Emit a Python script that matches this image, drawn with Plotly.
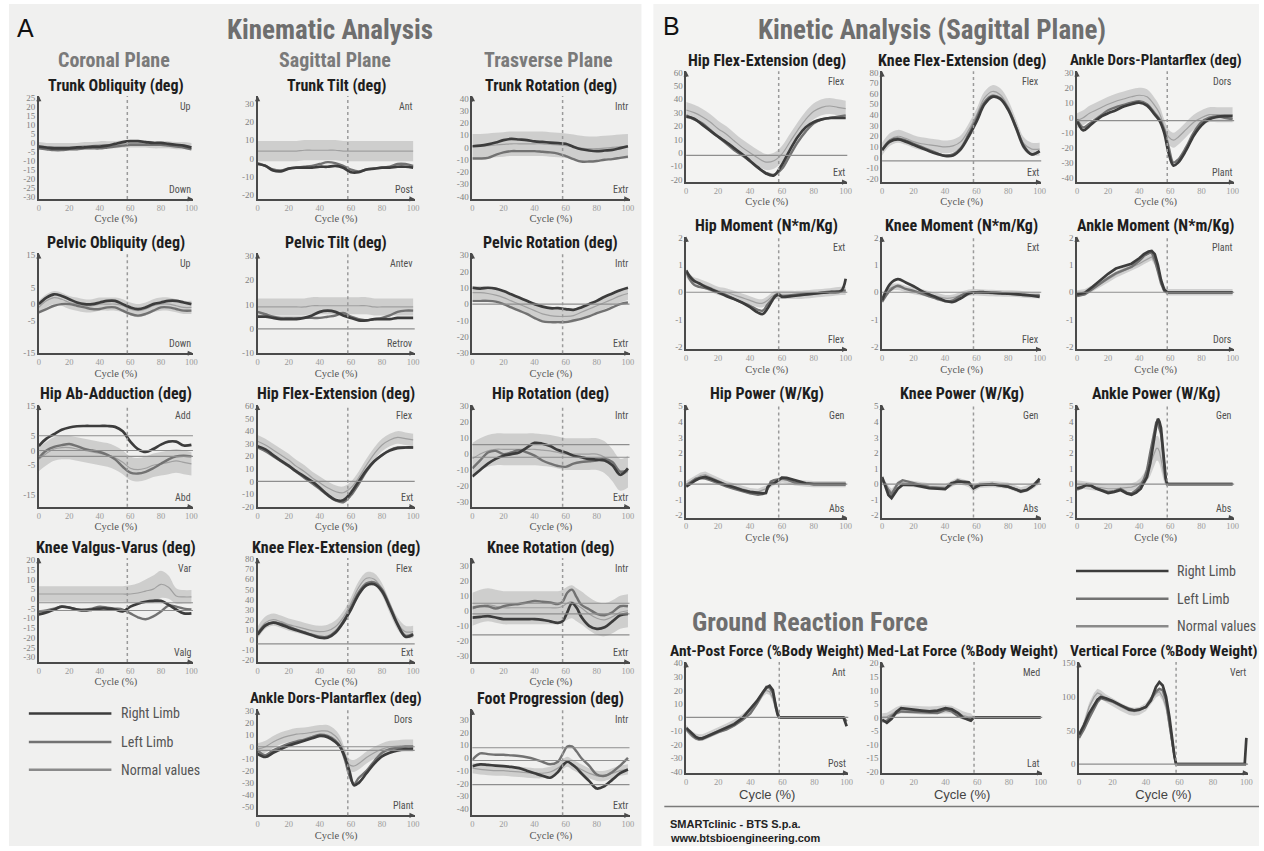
import plotly.graph_objects as go

W, H = 1264, 851
TOE_OFF = 58  # % of gait cycle at toe-off (dashed marker)

X21 = [0, 5, 10, 15, 20, 25, 30, 35, 40, 45, 50, 55, 60, 65, 70, 75, 80, 85, 90, 95, 100]
X_TICKS = [0, 20, 40, 60, 80, 100]

# ---------------- Panel A : kinematics ----------------
trunk_obl_x = X21
trunk_obl_r = [-2, -2.5, -3, -3, -3, -2.5, -2.5, -2, -2, -1.5, -0.5, 0.5, 1, 1, 0.5, 0, 0, -0.5, -1, -1.5, -2.5]
trunk_obl_l = [-3, -3.5, -4, -4, -3.5, -3.5, -3, -3, -3, -2.5, -2, -1.5, -1, -1, -1, -1, -1, -1.5, -2, -2.5, -3.5]
trunk_obl_n = [-1.5, -2, -2, -2, -2, -2, -1.5, -1.5, -1, -1, -1, -0.5, -0.5, -0.5, -0.5, -1, -1, -1, -1.5, -1.5, -2]
trunk_obl_sd = [2] * 21
trunk_obl_ticks = [-30, -25, -20, -15, -10, -5, 0, 5, 10, 15, 20, 25]
trunk_obl_hl = []

trunk_tilt_x = X21
trunk_tilt_r = [-3, -4, -6.5, -7, -5.5, -5, -5, -5, -4.5, -4.5, -4, -5, -7.5, -7.5, -6, -5.5, -5, -5, -4.5, -4.5, -5]
trunk_tilt_l = [-2.5, -4, -6, -6.5, -5.5, -5, -4.5, -4, -3, -2, -2.5, -4, -6, -7, -6, -5.5, -5, -4.5, -3, -3, -4]
trunk_tilt_n = [4, 4, 4, 4, 4, 4, 4.5, 4.5, 4.5, 4.5, 4.5, 4, 4, 4, 4, 4, 4, 4, 4, 4, 4]
trunk_tilt_sd = [5.5] * 21
trunk_tilt_ticks = [-20, -10, 0, 10, 20, 30]
trunk_tilt_hl = []

trunk_rot_x = X21
trunk_rot_r = [1, 1.5, 2.5, 4, 6, 7, 6.5, 6, 5, 4.5, 4, 3.5, 3, 0.5, -1.5, -2.5, -3, -2.5, -2, -0.5, 1]
trunk_rot_l = [-9, -9, -8.5, -6, -4, -3, -3, -3, -3, -3.5, -4, -5, -7, -9.5, -11.5, -11.5, -11, -10, -9.5, -8.5, -7.5]
trunk_rot_n = [1, 1, 1.5, 2, 2.5, 3, 3, 3, 3, 3, 2.5, 2, 1.5, 0.5, -0.5, -1, -1, -0.5, 0, 0.5, 1]
trunk_rot_sd = [10] * 21
trunk_rot_ticks = [-40, -30, -20, -10, 0, 10, 20, 30, 40]
trunk_rot_hl = []

pelv_obl_x = X21
pelv_obl_r = [0, 2, 3, 2.5, 1.5, 0.5, 0, 0, 0.5, 1, 1, 0, -1, -1.5, -1, 0, 0.5, 1, 1, 0.5, 0]
pelv_obl_l = [-2.5, -1.5, -0.5, 0, 0, -0.5, -1, -1.5, -1.5, -1, -1, -2, -3, -3.5, -3, -2, -1, -1, -1.5, -2, -2]
pelv_obl_n = [-1, 1, 2, 1.5, 0.5, 0, -0.5, -0.5, 0, 0, 0, -0.5, -1.5, -2, -1.5, -0.5, 0, 0, -0.5, -1, -1]
pelv_obl_sd = [2] * 21
pelv_obl_ticks = [-15, -5, 0, 5, 15]
pelv_obl_hl = []

pelv_tilt_x = X21
pelv_tilt_r = [5, 5, 4.5, 4, 4, 4, 4.5, 5.5, 7, 7.5, 7, 5.5, 4.5, 3.5, 3.5, 4, 4, 4, 4.5, 4.5, 4.5]
pelv_tilt_l = [7, 6, 5, 4.5, 4.5, 4.5, 4.5, 4.5, 4.5, 5, 5.5, 6.5, 5, 4, 3.5, 4, 4.5, 5.5, 7, 7.5, 7.5]
pelv_tilt_n = [9, 9, 9, 9, 9, 9, 9, 9.5, 9.5, 9.5, 9.5, 9.5, 9.5, 9.5, 9.5, 9, 9, 9, 9, 9, 9]
pelv_tilt_sd = [3.5] * 21
pelv_tilt_ticks = [-10, 0, 10, 20, 30]
pelv_tilt_hl = [0]

pelv_rot_x = X21
pelv_rot_r = [10, 9.5, 10, 9.5, 8, 6, 4, 2, 0, -1.5, -2.5, -2.5, -3, -3.5, -2, 0, 2, 4.5, 6.5, 8.5, 10]
pelv_rot_l = [2, 2, 2, 1.5, 0, -2, -4, -6, -8.5, -10.5, -11, -11, -11, -10, -9, -7.5, -5.5, -4, -2, 0, 1]
pelv_rot_n = [7, 7, 6.5, 5.5, 4, 2, 0, -2, -4, -6, -7, -7.5, -7.5, -7, -5, -3, -1, 1, 3, 5, 6.5]
pelv_rot_sd = [4] * 21
pelv_rot_ticks = [-30, -20, -10, 0, 10, 20, 30]
pelv_rot_hl = [0]

hip_abd_x = X21
hip_abd_r = [1.5, 4, 5.5, 7, 7.8, 8.2, 8.3, 8.3, 8.3, 8.3, 8, 6.5, 3, 0.5, -0.5, 0.5, 2, 3, 3, 1.7, 1.9]
hip_abd_l = [-2.5, 0, 1.2, 1.8, 2.2, 1.5, 0.5, 0, -0.5, -1.5, -3, -5.5, -7.5, -7.8, -7.2, -6, -4.5, -3, -2, -1.8, -2]
hip_abd_n = [-3, -1, 0.5, 1, 1, 0.5, 0, -0.5, -1, -1.5, -2.5, -4, -6, -6.5, -6, -5, -4.5, -4, -3.5, -4, -4.5]
hip_abd_sd = [4] * 21
hip_abd_ticks = [-15, -5, 0, 5, 15]
hip_abd_hl = [5, 0, -2]

hip_flex_a_x = X21
hip_flex_a_r = [28, 25.5, 21, 16.5, 12.5, 8, 4, 0, -5, -10.5, -14.5, -15, -9, 0, 9, 16, 21, 24.5, 26.5, 27, 27]
hip_flex_a_l = [27, 24, 20, 16, 12, 7.5, 3, -1.5, -6, -11, -15, -16.5, -11, -2, 8, 16, 21, 25, 27, 27, 27]
hip_flex_a_n = [32, 29, 25, 21, 17, 12, 8, 3, -1, -5, -8, -9, -5, 3, 13, 22, 29, 33, 35, 34, 33]
hip_flex_a_sd = [5] * 21
hip_flex_a_ticks = [-20, -10, 0, 10, 20, 30, 40, 50, 60]
hip_flex_a_hl = [0]

hip_rot_x = X21
hip_rot_r = [-14, -10, -6, -3, -1, 0, 1, 4, 7, 6.5, 5, 2.5, 1, -1, -2, -3, -3.5, -4, -7, -13, -9]
hip_rot_l = [-9, -4, 1, 2, 0, 1, 2.5, 1, -1, -4, -6, -7.5, -8, -6, -5, -4.5, -4, -3, -5, -11, -10]
hip_rot_n = [-3, 0, 2, 3, 3, 3, 3, 3, 3, 2.5, 2, 1, 0, 0, 0, 0, 0, -2, -7, -13, -11]
hip_rot_sd = [10] * 21
hip_rot_ticks = [-30, -20, -10, 0, 10, 20, 30]
hip_rot_hl = [6, -2]

knee_var_x = X21
knee_var_r = [-8, -7, -5.5, -4, -4.5, -5.5, -6, -5.5, -5, -5, -5.5, -6.5, -4, -2.5, -1.5, -1, -1, -3, -5.5, -7.5, -7.5]
knee_var_l = [-6.5, -6, -5, -4, -4.5, -5.5, -5.5, -5, -4, -4.5, -5, -5.5, -7.5, -9.5, -10.5, -9, -6.5, -3.5, -4, -5, -5.5]
knee_var_n = [2.5, 2.5, 2.5, 2.5, 2.5, 2.5, 2.5, 2.5, 2.5, 2.5, 2.5, 2.5, 2.5, 3, 4, 5, 7.5, 6, 1.5, 1, 1]
knee_var_sd = [4, 4, 4, 4, 4, 4, 4, 4, 4, 4, 4, 4, 4.5, 5, 6, 7, 7, 6, 4, 3.5, 3.5]
knee_var_ticks = [-30, -25, -20, -15, -10, -5, 0, 5, 10, 15, 20]
knee_var_hl = [-2, -6]

knee_flex_a_x = X21
knee_flex_a_r = [5, 14, 17, 15, 12, 9.5, 7, 4.5, 2, 2, 7, 17, 30, 45, 54, 55, 48, 32, 15, 3, 5]
knee_flex_a_l = [6, 15, 17, 16, 13, 10, 7.5, 5, 3, 3, 8, 18, 32, 47, 56, 57, 50, 34, 16, 4, 6]
knee_flex_a_n = [7, 17, 20, 18, 15, 13, 11, 9, 8, 9, 13, 22, 36, 52, 61, 60, 50, 32, 16, 8, 8]
knee_flex_a_sd = [6] * 21
knee_flex_a_ticks = [-20, -10, 0, 10, 20, 30, 40, 50, 60, 70, 80]
knee_flex_a_hl = [-4]

knee_rot_x = [0, 5, 10, 15, 20, 25, 30, 35, 40, 45, 50, 55, 58, 61, 64, 67, 70, 75, 80, 85, 90, 95, 100]
knee_rot_r = [-4.5, -4, -3.5, -4.5, -5.5, -5.5, -5.5, -5.5, -5.5, -6, -7, -8, -7, -1, 5, 2, -4, -10, -12, -11, -7, -3, -2]
knee_rot_l = [2, 3, 3, 1.5, 3, 4, 4.5, 5.5, 6.5, 6, 5.5, 4.5, 6, 12, 14, 9, 4, 1, -2, -3, -1, 3, 3]
knee_rot_n = [1, 3, 4, 3, 2, 2, 2, 2, 2, 2, 2, 2, 3, 5, 6, 4, 2, -2, -5, -6, -4, -1, 0]
knee_rot_sd = [11] * 23
knee_rot_ticks = [-30, -20, -10, 0, 10, 20, 30]
knee_rot_hl = [5, -2, -16]

ankle_a_x = [0, 5, 10, 15, 20, 25, 30, 35, 40, 45, 50, 53, 56, 59, 62, 65, 70, 75, 80, 85, 90, 95, 100]
ankle_a_r = [-6, -8.5, -5, -2, 1, 3, 5, 7, 9, 8, 4, 0, -8, -20, -32, -30, -22, -14, -8, -5, -3, -2, -2]
ankle_a_l = [-3, -7, -3, 0, 2.5, 4.5, 6, 8, 10, 9, 5, 0, -10, -24, -31, -26, -20, -12, -5, -2, -1, 0, 0]
ankle_a_n = [-2, 0, 4, 7, 9, 10.5, 11, 12, 13, 13, 9, 4, -6, -15, -16, -14, -9, -5, -2, 0, 0.5, 1, 1]
ankle_a_sd = [5] * 23
ankle_a_ticks = [-50, -40, -30, -20, -10, 0, 10, 20, 30]
ankle_a_hl = [0, -3]

foot_prog_x = [0, 5, 10, 15, 20, 25, 30, 35, 40, 45, 50, 55, 58, 61, 64, 67, 70, 75, 80, 85, 90, 95, 100]
foot_prog_r = [-6.5, -5, -5.5, -6, -6.5, -7, -8, -10, -12, -14, -15.5, -11, -6, -3, -5, -8, -12, -18, -24, -22, -17, -12, -9]
foot_prog_l = [-1.5, 3.5, 3, 2.5, 2.5, 2, 1.5, 0.5, -1, -3, -5, -3, 3, 9, 9, 5, 0, -6, -13, -14, -11, -6, 0]
foot_prog_n = [-8, -9, -9.5, -10, -10, -10.5, -11, -11.5, -12, -12, -11, -8, -5, -3, -5, -7, -9, -12, -14, -14, -12, -10, -9]
foot_prog_sd = [4] * 23
foot_prog_ticks = [-40, -30, -20, -10, 0, 10, 20, 30]
foot_prog_hl = [8, -2, -21]

# ---------------- Panel B : kinetics ----------------
hip_flex_b_x = X21
hip_flex_b_r = [27, 25.5, 21, 16.5, 12, 8, 3.5, -1, -6, -11, -15.5, -17, -9, 2, 12, 19, 23, 25, 26, 26, 26]
hip_flex_b_l = [28, 25, 22, 17, 12, 7, 2, -2, -6.5, -11.5, -15, -16.5, -12, -2, 8, 16, 22, 25, 26, 27, 28]
hip_flex_b_n = [32, 30, 27, 23, 18, 14, 9, 4, 0, -4, -7, -6, -1, 8, 17, 25, 31, 34, 35, 34, 33]
hip_flex_b_sd = [6] * 21
hip_flex_b_ticks = [-20, -10, 0, 10, 20, 30, 40, 50, 60]
hip_flex_b_hl = [-2]

knee_flex_b_x = X21
knee_flex_b_r = [7, 15, 17, 15, 12, 9, 6, 3.5, 1.5, 2, 8, 20, 34, 50, 57, 55, 45, 28, 10, 3, 6]
knee_flex_b_l = [7, 16, 18, 16, 13, 10, 7, 4, 2, 3, 9, 22, 37, 52, 58, 56, 46, 29, 11, 3, 6]
knee_flex_b_n = [8, 17, 20, 18, 15, 13, 12, 11, 10, 11, 15, 26, 40, 56, 62, 59, 48, 30, 13, 8, 8]
knee_flex_b_sd = [6] * 21
knee_flex_b_ticks = [-20, -10, 0, 10, 20, 30, 40, 50, 60, 70, 80]
knee_flex_b_hl = [-3]

ankle_b_x = [0, 4, 8, 12, 16, 20, 25, 30, 35, 40, 45, 50, 53, 56, 59, 62, 65, 70, 75, 80, 85, 90, 95, 100]
ankle_b_r = [-2, -8.5, -5.5, -2, 1, 3, 5, 7.5, 9, 10, 8, 2, -2, -10, -24, -32, -30, -22, -12, -5, -1, 0.5, 1, 1]
ankle_b_l = [-1, -6.5, -4, -1, 2, 5, 7, 8.5, 10, 11, 9, 3, -1, -8, -20, -30, -28, -20, -10, -3, 0, 1, 0, -1]
ankle_b_n = [-2, 0, 3, 5, 7, 9, 11, 12.5, 14, 15, 14, 8, 3, -6, -13, -15, -13, -8, -3, 0, 2, 2, 2, 2]
ankle_b_sd = [5] * 24
ankle_b_ticks = [-40, -30, -20, -10, 0, 10, 20, 30]
ankle_b_hl = [-2]

hip_mom_x = [0, 2, 5, 8, 12, 16, 20, 25, 30, 35, 40, 45, 48, 51, 54, 56, 58, 60, 65, 70, 80, 90, 97, 100]
hip_mom_r = [0.8, 0.6, 0.42, 0.33, 0.2, 0.1, 0.0, -0.14, -0.25, -0.38, -0.55, -0.75, -0.8, -0.6, -0.3, -0.14, -0.1, -0.17, -0.15, -0.12, -0.05, 0, 0.04, 0.5]
hip_mom_l = [0.75, 0.5, 0.27, 0.2, 0.15, 0.08, 0.0, -0.1, -0.25, -0.38, -0.5, -0.65, -0.68, -0.45, -0.25, -0.1, -0.05, -0.14, -0.12, -0.08, -0.05, 0.02, 0.05, 0.07]
hip_mom_n = [0.7, 0.55, 0.4, 0.35, 0.25, 0.15, 0.05, 0, -0.1, -0.2, -0.3, -0.4, -0.4, -0.3, -0.15, -0.1, -0.1, -0.1, -0.1, -0.1, -0.05, 0, 0.05, 0.05]
hip_mom_sd = [0.15] * 24
mom_ticks = [-2, -1, 0, 1, 2]
hip_mom_hl = [0]

knee_mom_x = X21
knee_mom_r = [-0.3, 0.3, 0.48, 0.36, 0.22, 0.05, -0.08, -0.2, -0.32, -0.36, -0.22, -0.05, 0, 0, -0.02, -0.03, -0.05, -0.07, -0.1, -0.13, -0.17]
knee_mom_l = [-0.36, 0.06, 0.24, 0.12, 0.05, -0.05, -0.15, -0.25, -0.33, -0.3, -0.12, -0.02, 0, -0.02, -0.03, -0.05, -0.06, -0.08, -0.1, -0.11, -0.12]
knee_mom_n = [-0.2, 0.15, 0.2, 0.12, 0.05, 0, -0.08, -0.15, -0.22, -0.2, -0.1, -0.02, 0, -0.02, -0.03, -0.04, -0.05, -0.06, -0.08, -0.1, -0.1]
knee_mom_sd = [0.12] * 21
knee_mom_hl = [0]

ankle_mom_x = [0, 5, 10, 15, 20, 25, 30, 35, 40, 43, 46, 48, 50, 52, 54, 56, 58, 60, 70, 80, 90, 100]
ankle_mom_r = [-0.08, -0.02, 0.2, 0.45, 0.68, 0.87, 0.95, 1.05, 1.25, 1.4, 1.5, 1.52, 1.4, 1.0, 0.45, 0.1, 0, 0, 0, 0, 0, 0]
ankle_mom_l = [-0.14, -0.08, 0.12, 0.33, 0.52, 0.7, 0.82, 0.93, 1.15, 1.33, 1.43, 1.46, 1.2, 0.8, 0.33, 0.05, 0, 0, 0, 0, 0, 0]
ankle_mom_n = [-0.05, 0, 0.15, 0.3, 0.48, 0.65, 0.78, 0.9, 1.05, 1.15, 1.25, 1.3, 1.1, 0.8, 0.4, 0.1, 0, 0, 0, 0, 0, 0]
ankle_mom_sd = [0.12] * 22
ankle_mom_hl = [0]

hip_pow_x = [0, 3, 6, 9, 12, 15, 20, 25, 30, 35, 40, 45, 48, 50, 51, 53, 55, 58, 60, 63, 68, 75, 80, 90, 100]
hip_pow_r = [-0.17, 0.05, 0.25, 0.4, 0.46, 0.35, 0.15, -0.06, -0.2, -0.38, -0.5, -0.58, -0.6, -0.58, -0.2, 0.0, 0.05, 0.25, 0.42, 0.4, 0.25, 0.05, 0, 0, 0]
hip_pow_l = [-0.1, 0.1, 0.35, 0.38, 0.35, 0.25, 0.04, -0.15, -0.3, -0.45, -0.6, -0.69, -0.65, -0.55, -0.3, 0.15, 0.25, 0.3, 0.35, 0.3, 0.1, 0.02, 0, 0, 0]
hip_pow_n = [0, 0.2, 0.4, 0.55, 0.6, 0.45, 0.2, 0, -0.15, -0.3, -0.45, -0.5, -0.4, -0.3, -0.2, 0, 0.1, 0.25, 0.3, 0.25, 0.1, 0.03, 0, 0, 0]
hip_pow_sd = [0.2] * 25
pow_ticks = [-2, -1, 0, 1, 2, 3, 4, 5]
hip_pow_hl = [0]

knee_pow_x = [0, 2, 4, 6, 8, 10, 13, 20, 30, 40, 44, 48, 52, 55, 58, 62, 70, 80, 85, 88, 92, 96, 100]
knee_pow_r = [0.46, -0.2, -0.7, -0.9, -0.6, -0.3, -0.05, -0.05, -0.27, -0.33, 0.05, 0.15, 0.15, 0.12, -0.27, -0.06, 0, -0.17, -0.35, -0.48, -0.38, -0.1, 0.35]
knee_pow_l = [0.25, 0, -0.4, -0.69, -0.3, 0.04, 0.25, 0.05, -0.2, -0.3, -0.05, 0.25, 0.1, 0, -0.17, -0.06, -0.02, -0.17, -0.35, -0.44, -0.38, -0.1, 0.2]
knee_pow_n = [0.3, 0, -0.3, -0.5, -0.3, 0, 0.1, 0, -0.15, -0.2, 0, 0.2, 0.1, 0, -0.3, -0.05, 0, -0.1, -0.3, -0.4, -0.3, -0.1, 0.2]
knee_pow_sd = [0.2] * 23
knee_pow_hl = [0]

ankle_pow_x = [0, 3, 6, 9, 12, 16, 20, 24, 28, 32, 35, 38, 41, 43, 45, 47, 49, 51, 52, 53, 54, 55, 56, 57, 58, 60, 80, 100]
ankle_pow_r = [-0.27, -0.2, -0.06, -0.1, -0.27, -0.45, -0.58, -0.5, -0.38, -0.6, -0.69, -0.55, -0.3, 0.1, 0.46, 1.3, 2.6, 3.8, 4.2, 4.0, 3.6, 2.5, 1.3, 0.4, 0, 0, 0, 0]
ankle_pow_l = [-0.35, -0.25, -0.06, -0.12, -0.27, -0.4, -0.5, -0.45, -0.3, -0.55, -0.6, -0.4, -0.1, 0.3, 0.9, 2.0, 3.0, 4.0, 3.9, 3.6, 3.2, 2.2, 1.0, 0.3, 0, 0, 0, 0]
ankle_pow_n = [0, -0.05, -0.1, -0.15, -0.2, -0.25, -0.3, -0.3, -0.25, -0.2, -0.2, -0.1, 0.1, 0.3, 0.7, 1.2, 1.8, 2.3, 2.3, 2.1, 1.6, 1.0, 0.5, 0.1, 0, 0, 0, 0]
ankle_pow_sd = [0.25, 0.25, 0.25, 0.25, 0.25, 0.25, 0.25, 0.25, 0.25, 0.25, 0.25, 0.25, 0.3, 0.4, 0.5, 0.7, 0.8, 0.8, 0.8, 0.8, 0.7, 0.6, 0.4, 0.2, 0.05, 0.05, 0.05, 0.05]
ankle_pow_hl = [0]

ap_force_x = [0, 2, 4, 6, 8, 10, 12, 15, 20, 25, 30, 35, 40, 44, 48, 50, 52, 54, 56, 57, 58, 70, 90, 98, 100]
ap_force_r = [-7.8, -10, -12.7, -14.5, -15.6, -15.5, -14.5, -13, -10.5, -8, -5, -0.5, 6, 12, 19, 22, 23.4, 20.2, 7, 2, 0, 0, 0, 0, -6.6]
ap_force_l = [-9, -11.5, -13.9, -15.5, -16.3, -16, -15, -13, -11, -9, -6, -2, 3, 10, 18, 22.5, 22, 18, 8, 3, 0, 0, 0, 0, -3]
ap_force_n = [-8, -11, -13, -14.5, -15, -15, -14, -12.5, -10, -7, -4, 0, 5, 11, 18, 20, 19, 14, 5, 1.5, 0, 0, 0, 0, 0]
ap_force_sd = [2.5] * 20 + [0.3] * 5
ap_force_ticks = [-40, -30, -20, -10, 0, 10, 20, 30, 40]
ap_force_hl = [0]

ml_force_x = [0, 3, 6, 9, 12, 16, 20, 25, 30, 35, 40, 44, 48, 51, 54, 56, 58, 70, 90, 100]
ml_force_r = [-0.8, -2, -0.5, 2, 3.4, 3.2, 2.8, 2.5, 2.2, 2.5, 3.4, 3, 1.6, 0, -0.8, -1.2, 0, 0, 0, 0]
ml_force_l = [-1.5, -1.3, 0.5, 1.6, 2.2, 2.2, 2, 1.9, 1.8, 1.6, 2.8, 2.2, 0.4, -0.3, -0.5, -0.5, 0, 0, 0, 0]
ml_force_n = [0, 0.2, 1.2, 2.3, 3, 3, 2.8, 2.6, 2.5, 2.7, 3, 2.8, 1.5, 0.8, 0.2, 0, 0, 0, 0, 0]
ml_force_sd = [1.5] * 16 + [0.2] * 4
ml_force_ticks = [-20, -15, -10, -5, 0, 5, 10, 15, 20]
ml_force_hl = [0]

vert_force_x = [0, 3, 6, 9, 11, 13, 16, 20, 25, 30, 33, 36, 40, 43, 46, 48, 50, 52, 54, 55, 56, 57, 58, 70, 99, 100]
vert_force_r = [44, 58, 75, 88, 96, 100, 98, 94, 88, 81, 80, 81, 85, 95, 115, 122, 117, 100, 70, 50, 30, 12, 0, 0, 0, 39]
vert_force_l = [39, 52, 68, 82, 92, 98, 96, 93, 87, 82, 80, 81, 85, 97, 108, 112, 110, 95, 65, 45, 28, 10, 0, 0, 0, 0]
vert_force_n = [40, 60, 85, 100, 106, 104, 98, 92, 85, 79, 78, 79, 85, 95, 105, 108, 100, 85, 55, 35, 20, 8, 0, 0, 0, 0]
vert_force_sd = [6] * 22 + [0.5] * 4
vert_force_ticks = [0, 50, 100, 150]
vert_force_hl = [0]

# ---------------- styling ----------------
C_R = "#3c3c3c"
C_L = "#727272"
C_N = "#a0a0a0"
BAND = "rgba(165,165,165,0.45)"
HL = "#8e8e8e"
AX = "#4a4a4a"
TITLE_FONT = "Liberation Sans Narrow, Roboto Condensed, Liberation Sans, Arial"
SERIF = "Liberation Serif, DejaVu Serif, serif"

# column / row boxes in pixels (left, right) and (top, bottom)
A_COLS = [(37, 192), (257, 415), (473, 631)]
A_ROWS = [(93, 197), (252, 353), (405, 508), (560, 665), (713, 820)]
B_COLS = [(688, 850), (885, 1045), (1081, 1239)]
B_ROWS = [(68, 180), (235, 349), (405, 519)]
G_COLS = [(688, 851), (885, 1046), (1083, 1253)]
G_ROW = (665, 777)

specs = [
    # Panel A
    ("Trunk Obliquity (deg)", A_COLS[0], A_ROWS[0], [-31, 26], trunk_obl_ticks, "Up", "Down", trunk_obl_x, trunk_obl_r, trunk_obl_l, trunk_obl_n, trunk_obl_sd, trunk_obl_hl, "spline", "A"),
    ("Trunk Tilt (deg)", A_COLS[1], A_ROWS[0], [-22, 34], trunk_tilt_ticks, "Ant", "Post", trunk_tilt_x, trunk_tilt_r, trunk_tilt_l, trunk_tilt_n, trunk_tilt_sd, trunk_tilt_hl, "spline", "A"),
    ("Trunk Rotation (deg)", A_COLS[2], A_ROWS[0], [-42, 42], trunk_rot_ticks, "Intr", "Extr", trunk_rot_x, trunk_rot_r, trunk_rot_l, trunk_rot_n, trunk_rot_sd, trunk_rot_hl, "spline", "A"),
    ("Pelvic Obliquity (deg)", A_COLS[0], A_ROWS[1], [-15, 15.5], pelv_obl_ticks, "Up", "Down", pelv_obl_x, pelv_obl_r, pelv_obl_l, pelv_obl_n, pelv_obl_sd, pelv_obl_hl, "spline", "A"),
    ("Pelvic Tilt (deg)", A_COLS[1], A_ROWS[1], [-10, 31], pelv_tilt_ticks, "Antev", "Retrov", pelv_tilt_x, pelv_tilt_r, pelv_tilt_l, pelv_tilt_n, pelv_tilt_sd, pelv_tilt_hl, "spline", "A"),
    ("Pelvic Rotation (deg)", A_COLS[2], A_ROWS[1], [-30, 31], pelv_rot_ticks, "Intr", "Extr", pelv_rot_x, pelv_rot_r, pelv_rot_l, pelv_rot_n, pelv_rot_sd, pelv_rot_hl, "spline", "A"),
    ("Hip Ab-Adduction (deg)", A_COLS[0], A_ROWS[2], [-19, 15.5], hip_abd_ticks, "Add", "Abd", hip_abd_x, hip_abd_r, hip_abd_l, hip_abd_n, hip_abd_sd, hip_abd_hl, "spline", "A"),
    ("Hip Flex-Extension (deg)", A_COLS[1], A_ROWS[2], [-20, 61], hip_flex_a_ticks, "Flex", "Ext", hip_flex_a_x, hip_flex_a_r, hip_flex_a_l, hip_flex_a_n, hip_flex_a_sd, hip_flex_a_hl, "spline", "A"),
    ("Hip Rotation (deg)", A_COLS[2], A_ROWS[2], [-33, 31], hip_rot_ticks, "Intr", "Extr", hip_rot_x, hip_rot_r, hip_rot_l, hip_rot_n, hip_rot_sd, hip_rot_hl, "spline", "A"),
    ("Knee Valgus-Varus (deg)", A_COLS[0], A_ROWS[3], [-32.5, 21], knee_var_ticks, "Var", "Valg", knee_var_x, knee_var_r, knee_var_l, knee_var_n, knee_var_sd, knee_var_hl, "spline", "A"),
    ("Knee Flex-Extension (deg)", A_COLS[1], A_ROWS[3], [-22, 81], knee_flex_a_ticks, "Flex", "Ext", knee_flex_a_x, knee_flex_a_r, knee_flex_a_l, knee_flex_a_n, knee_flex_a_sd, knee_flex_a_hl, "spline", "A"),
    ("Knee Rotation (deg)", A_COLS[2], A_ROWS[3], [-34, 35], knee_rot_ticks, "Intr", "Extr", knee_rot_x, knee_rot_r, knee_rot_l, knee_rot_n, knee_rot_sd, knee_rot_hl, "spline", "A"),
    ("Ankle Dors-Plantarflex (deg)", A_COLS[1], A_ROWS[4], [-57, 31], ankle_a_ticks, "Dors", "Plant", ankle_a_x, ankle_a_r, ankle_a_l, ankle_a_n, ankle_a_sd, ankle_a_hl, "spline", "A"),
    ("Foot Progression (deg)", A_COLS[2], A_ROWS[4], [-45, 38], foot_prog_ticks, "Intr", "Extr", foot_prog_x, foot_prog_r, foot_prog_l, foot_prog_n, foot_prog_sd, foot_prog_hl, "spline", "A"),
    # Panel B
    ("Hip Flex-Extension (deg)", B_COLS[0], B_ROWS[0], [-22, 61], hip_flex_b_ticks, "Flex", "Ext", hip_flex_b_x, hip_flex_b_r, hip_flex_b_l, hip_flex_b_n, hip_flex_b_sd, hip_flex_b_hl, "spline", "B"),
    ("Knee Flex-Extension (deg)", B_COLS[1], B_ROWS[0], [-23, 81], knee_flex_b_ticks, "Flex", "Ext", knee_flex_b_x, knee_flex_b_r, knee_flex_b_l, knee_flex_b_n, knee_flex_b_sd, knee_flex_b_hl, "spline", "B"),
    ("Ankle Dors-Plantarflex (deg)", B_COLS[2], B_ROWS[0], [-43, 31], ankle_b_ticks, "Dors", "Plant", ankle_b_x, ankle_b_r, ankle_b_l, ankle_b_n, ankle_b_sd, ankle_b_hl, "spline", "B"),
    ("Hip Moment (N*m/Kg)", B_COLS[0], B_ROWS[1], [-2.1, 2.05], mom_ticks, "Ext", "Flex", hip_mom_x, hip_mom_r, hip_mom_l, hip_mom_n, hip_mom_sd, hip_mom_hl, "spline", "B"),
    ("Knee Moment (N*m/Kg)", B_COLS[1], B_ROWS[1], [-2.1, 2.05], mom_ticks, "Ext", "Flex", knee_mom_x, knee_mom_r, knee_mom_l, knee_mom_n, knee_mom_sd, knee_mom_hl, "spline", "B"),
    ("Ankle Moment (N*m/Kg)", B_COLS[2], B_ROWS[1], [-2.1, 2.05], mom_ticks, "Plant", "Dors", ankle_mom_x, ankle_mom_r, ankle_mom_l, ankle_mom_n, ankle_mom_sd, ankle_mom_hl, "linear", "B"),
    ("Hip Power (W/Kg)", B_COLS[0], B_ROWS[2], [-2.15, 5.1], pow_ticks, "Gen", "Abs", hip_pow_x, hip_pow_r, hip_pow_l, hip_pow_n, hip_pow_sd, hip_pow_hl, "linear", "B"),
    ("Knee Power (W/Kg)", B_COLS[1], B_ROWS[2], [-2.15, 5.1], pow_ticks, "Gen", "Abs", knee_pow_x, knee_pow_r, knee_pow_l, knee_pow_n, knee_pow_sd, knee_pow_hl, "linear", "B"),
    ("Ankle Power (W/Kg)", B_COLS[2], B_ROWS[2], [-2.15, 5.1], pow_ticks, "Gen", "Abs", ankle_pow_x, ankle_pow_r, ankle_pow_l, ankle_pow_n, ankle_pow_sd, ankle_pow_hl, "linear", "B"),
    ("Ant-Post Force (%Body Weight)", G_COLS[0], G_ROW, [-41, 41], ap_force_ticks, "Ant", "Post", ap_force_x, ap_force_r, ap_force_l, ap_force_n, ap_force_sd, ap_force_hl, "linear", "G"),
    ("Med-Lat Force (%Body Weight)", G_COLS[1], G_ROW, [-20.5, 20.5], ml_force_ticks, "Med", "Lat", ml_force_x, ml_force_r, ml_force_l, ml_force_n, ml_force_sd, ml_force_hl, "linear", "G"),
    ("Vertical Force (%Body Weight)", G_COLS[2], G_ROW, [-13, 152], vert_force_ticks, "Vert", "", vert_force_x, vert_force_r, vert_force_l, vert_force_n, vert_force_sd, vert_force_hl, "linear", "G"),
]

fig = go.Figure()
layout = {}
annotations = []
shapes = []

# page backgrounds
shapes.append(dict(type="rect", xref="paper", yref="paper", x0=7 / W, x1=643 / W, y0=0, y1=1,
                   fillcolor="#f0f0ef", line=dict(width=0), layer="below"))
shapes.append(dict(type="rect", xref="paper", yref="paper", x0=655 / W, x1=1, y0=0, y1=1,
                   fillcolor="#f3f3f2", line=dict(width=0), layer="below"))

for i, (title, cols, rows, yr, yt, top_lab, bot_lab, xs, r, l, n, sd, hls, shp, panel) in enumerate(specs, start=1):
    xa = "x" if i == 1 else f"x{i}"
    ya = "y" if i == 1 else f"y{i}"
    xkey = "xaxis" if i == 1 else f"xaxis{i}"
    ykey = "yaxis" if i == 1 else f"yaxis{i}"
    left, right = cols
    top, bottom = rows
    cyc_font = dict(family=SERIF, size=10.5, color="#555") if panel != "G" else dict(family="Liberation Sans, Arial", size=13, color="#444")
    layout[xkey] = dict(domain=[left / W, right / W], range=[0, 101], anchor=ya,
                        tickvals=X_TICKS, ticktext=[str(t) for t in X_TICKS],
                        showline=True, linecolor=AX, linewidth=1.5, showgrid=False, zeroline=False,
                        ticks="", tickfont=dict(family=SERIF, size=8.5, color="#9a9a9a"),
                        title=dict(text="Cycle (%)", font=cyc_font, standoff=3), fixedrange=True)
    layout[ykey] = dict(domain=[1 - bottom / H, 1 - top / H], range=yr, anchor=xa,
                        tickvals=yt, ticktext=[str(t) for t in yt],
                        showline=True, linecolor=AX, linewidth=1.5, showgrid=False, zeroline=False,
                        ticks="", tickfont=dict(family=SERIF, size=9, color="#808080"), fixedrange=True)

    upper = [a + b for a, b in zip(n, sd)]
    lower = [a - b for a, b in zip(n, sd)]
    fig.add_trace(go.Scatter(x=xs, y=upper, xaxis=xa, yaxis=ya, mode="lines", line=dict(width=0, shape=shp),
                             showlegend=False, hoverinfo="skip"))
    fig.add_trace(go.Scatter(x=xs, y=lower, xaxis=xa, yaxis=ya, mode="lines", line=dict(width=0, shape=shp),
                             fill="tonexty", fillcolor=BAND, showlegend=False, hoverinfo="skip"))
    for hv in hls:
        shapes.append(dict(type="line", xref=f"{xa} domain", yref=ya, x0=0, x1=1, y0=hv, y1=hv,
                           line=dict(color=HL, width=1.2), layer="above"))
    fig.add_trace(go.Scatter(x=xs, y=n, xaxis=xa, yaxis=ya, mode="lines", line=dict(color=C_N, width=1.2, shape=shp),
                             name="Normal values", showlegend=False))
    fig.add_trace(go.Scatter(x=xs, y=l, xaxis=xa, yaxis=ya, mode="lines", line=dict(color=C_L, width=2.4, shape=shp),
                             name="Left Limb", showlegend=False))
    fig.add_trace(go.Scatter(x=xs, y=r, xaxis=xa, yaxis=ya, mode="lines", line=dict(color=C_R, width=2.7, shape=shp),
                             name="Right Limb", showlegend=False))

    # toe-off dashed marker
    shapes.append(dict(type="line", xref=xa, yref=f"{ya} domain", x0=TOE_OFF, x1=TOE_OFF, y0=0, y1=1,
                       line=dict(color="#9a9a9a", width=1.5, dash="3px,3px"), layer="above"))

    # subplot title
    if panel == "G":
        tsize = 15.5
    elif len(title) > 26:
        tsize = 15
    else:
        tsize = 16
    annotations.append(dict(text=f"<b>{title}</b>", xref=f"{xa} domain", yref=f"{ya} domain", x=0.5, y=1,
                            xanchor="center", yanchor="middle", yshift=11, showarrow=False,
                            font=dict(family=TITLE_FONT, size=tsize, color="#1e1e1e")))
    # corner labels
    annotations.append(dict(text=top_lab, xref=f"{xa} domain", yref=f"{ya} domain", x=1, y=1,
                            xanchor="right", yanchor="top", yshift=-3, showarrow=False,
                            font=dict(family=TITLE_FONT, size=10, color="#505050")))
    if bot_lab:
        annotations.append(dict(text=bot_lab, xref=f"{xa} domain", yref=f"{ya} domain", x=1, y=0,
                                xanchor="right", yanchor="bottom", yshift=2, showarrow=False,
                                font=dict(family=TITLE_FONT, size=10, color="#505050")))
    # axis arrow heads
    annotations.append(dict(text="", xref=f"{xa} domain", yref=f"{ya} domain", x=0, y=1, ax=0, ay=7,
                            showarrow=True, arrowhead=2, arrowsize=0.8, arrowwidth=1.3, arrowcolor=AX))
    annotations.append(dict(text="", xref=f"{xa} domain", yref=f"{ya} domain", x=1, y=0, ax=-7, ay=0,
                            showarrow=True, arrowhead=2, arrowsize=0.8, arrowwidth=1.3, arrowcolor=AX))


def pt(px, py):
    return px / W, 1 - py / H


def text(t, px, py, size, color, xanchor="center", family=TITLE_FONT, bold=True):
    x, y = pt(px, py)
    annotations.append(dict(text=f"<b>{t}</b>" if bold else t, xref="paper", yref="paper", x=x, y=y,
                            xanchor=xanchor, yanchor="middle", showarrow=False,
                            font=dict(family=family, size=size, color=color)))


# headers
text("A", 13, 24, 25, "#111", xanchor="left", family="Liberation Sans, Arial", bold=False)
text("Kinematic Analysis", 330, 26, 27, "#6e6e6e")
text("Coronal Plane", 113, 57, 20, "#7a7a7a")
text("Sagittal Plane", 335, 57, 20, "#7a7a7a")
text("Trasverse Plane", 550, 57, 20, "#7a7a7a")
text("B", 663, 22, 25, "#111", xanchor="left", family="Liberation Sans, Arial", bold=False)
text("Kinetic Analysis (Sagittal Plane)", 935, 26, 27, "#6e6e6e")
text("Ground Reaction Force", 692, 625, 26, "#6e6e6e", xanchor="left")

# legends
legend_labels = ["Right Limb", "Left Limb", "Normal values"]
legend_colors = [C_R, C_L, "#8a8a8a"]
for (lx0, lx1, tx, ys) in [(27, 110, 118, [717, 746, 774]), (1080, 1173, 1180, [573, 601, 629])]:
    for lab, col, yy in zip(legend_labels, legend_colors, ys):
        shapes.append(dict(type="line", xref="paper", yref="paper", x0=lx0 / W, x1=lx1 / W,
                           y0=1 - yy / H, y1=1 - yy / H, line=dict(color=col, width=2.5)))
        text(lab, tx, yy, 14, "#555", xanchor="left", bold=False,
             family="Liberation Sans Narrow, Roboto Condensed, Liberation Sans")

# footer
shapes.append(dict(type="line", xref="paper", yref="paper", x0=666 / W, x1=1, y0=1 - 811 / H, y1=1 - 811 / H,
                   line=dict(color="#7a7a7a", width=1.5)))
text("SMARTclinic - BTS S.p.a.", 670, 829, 11, "#222", xanchor="left", family="Liberation Sans, Arial")
text("www.btsbioengineering.com", 670, 843, 11, "#222", xanchor="left", family="Liberation Sans, Arial")

fig.update_layout(
    width=W, height=H, margin=dict(l=0, r=0, t=0, b=0),
    paper_bgcolor="white", plot_bgcolor="rgba(0,0,0,0)",
    showlegend=False, annotations=annotations, shapes=shapes, **layout
)

fig.write_html("out.html", config={"displayModeBar": False},
               post_script="document.body.style.margin='0';document.body.style.overflow='hidden';")
